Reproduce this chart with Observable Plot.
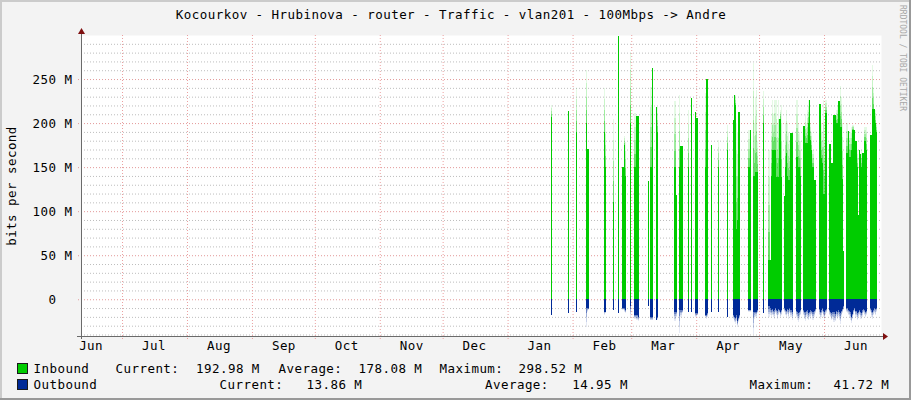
<!DOCTYPE html>
<html><head><meta charset="utf-8">
<script src="https://cdn.jsdelivr.net/npm/d3@7"></script>
<script src="https://cdn.jsdelivr.net/npm/@observablehq/plot@0.6"></script>
<style>
html,body{margin:0;padding:0;background:#fff;}
#wrap{position:relative;width:911px;height:400px;background:#F3F3F3;overflow:hidden;}
#wrap svg{position:absolute;left:0;top:0;}
</style></head><body><div id="wrap"></div>
<script>
// ---------- texts ----------
const title = "Kocourkov - Hrubinova - router - Traffic - vlan201 - 100Mbps -> Andre";
const yLabel = "bits per second";
const credit = "RRDTOOL / TOBI OETIKER";
// ---------- axes ----------
const xStart = "2014-06-11 10:05", xEnd = "2015-06-28 04:34";
const yMin = -41.72, yMax = 300;
const monthStarts = ["2014-07-01","2014-08-01","2014-09-01","2014-10-01","2014-11-01","2014-12-01",
  "2015-01-01","2015-02-01","2015-03-01","2015-04-01","2015-05-01","2015-06-01"];
const monthLabelDates = ["2014-06-16","2014-07-16","2014-08-16","2014-09-16","2014-10-16","2014-11-16",
  "2014-12-16","2015-01-16","2015-02-16","2015-03-16","2015-04-16","2015-05-16","2015-06-16"];
const yMajor = [0, 50, 100, 150, 200, 250];
const yMinor = [-40,-30,-20,-10,10,20,30,40,60,70,80,90,110,120,130,140,160,170,180,190,210,220,230,240,260,270,280,290];
// ---------- sparse spikes (12 h samples, Mbit/s) ----------
const spikeTimes = ["2015-01-21 12","2015-01-30 00","2015-02-02 12","2015-02-07 12","2015-02-08 00","2015-02-08 12","2015-02-16 00","2015-02-16 12","2015-02-20 12","2015-02-22 12",
 "2015-02-24 12","2015-02-25 00","2015-02-25 12","2015-02-26 00","2015-02-28 12","2015-03-02 12","2015-03-03 00","2015-03-03 12","2015-03-04 00","2015-03-09 00",
 "2015-03-10 00","2015-03-10 12","2015-03-11 00","2015-03-13 00","2015-03-13 12","2015-03-21 12","2015-03-22 00","2015-03-22 12","2015-03-24 00","2015-03-24 12",
 "2015-03-25 00","2015-03-28 00","2015-03-29 12","2015-03-31 12","2015-04-01 00","2015-04-01 12","2015-04-05 00","2015-04-05 12","2015-04-06 00","2015-04-08 00",
 "2015-04-11 12","2015-04-15 12","2015-04-18 12","2015-04-19 00","2015-04-19 12","2015-04-20 00","2015-04-20 12","2015-04-21 00","2015-04-21 12","2015-04-25 12",
 "2015-04-26 00","2015-04-26 12","2015-04-28 00","2015-04-28 12","2015-04-29 00","2015-04-29 12","2015-04-30 00","2015-05-03 00"];
const spikeIn = [207,214,190,200,171,171,190,150,110,298.5, 150,150,175,140,200,150,150,208,208,134,
 150,150,263,218,190,150,150,118,150,174, 174,150,228,213,206,206,150,250,250,175,
 150,170,203,232,220,80,90,213,213,150, 150,192,140,140,144,144,145,200];
const spikeInPeak = [220,214,240,260,171,171,240,200,205,298.5, 150,150,185,178,280,211,211,208,208,134,
 241,241,263,218,218,225,225,118,232,174, 174,215,228,213,206,206,234,250,250,175,
 181,198,203,232,232,200,190,213,213,192, 192,192,268,200,230,238,180,236];
const spikeOut = [18,16,14,10,10,10,14,14,12,16, 10,10,10,12,8,18,18,18,20,7.6,
 20,20,20,23,20,14,14,14,12,12, 12,14,15,16,16,16,18,18,16,15,
 14,20,18,20,21,18,25,21,18,12, 12,12,14,14,14,14,12,16];
const spikeOutPeak = [18,16,14,31,14,12,18,16,12,16, 12,12,14,16,20,22,22,24,25,7.6,
 24,24,24,23,23,25,25,20,38,20, 16,14,15,20,20,18,20,22,20,15,
 14,20,22,26,28,25,31,26,22,14, 14,14,39,22,20,20,16,16];
// ---------- dense period, consecutive 12 h samples from denseStart ----------
const denseStart = "2015-05-05 12";
const denseIn = [45,45,140,170,170,170,170,139,139,139,
 205,205,139,0,0,117,150,166,140,135,
 135,189,189,0,0,0,162,162,150,150,
 140,0,0,197,197,177,177,177,200,226,
 181,170,150,135,135,0,0,0,222,222,
 160,155,120,120,211,211,0,0,176,176,
 155,155,209,209,200,200,225,225,196,196,
 136,55,0,0,166,166,191,162,162,170,
 192,192,192,180,150,96,170,165,150,166,
 166,180,180,170,0,0,0,187,187,216,
 216,216,200,190];
const denseInPeak = [170,45,200,226,210,226,226,226,200,226,
 205,215,220,0,0,117,200,215,200,190,
 180,189,189,0,0,0,226,226,200,190,
 180,0,0,197,197,210,200,215,226,226,
 200,190,170,135,135,0,0,0,222,222,
 200,190,226,200,226,226,0,0,176,176,
 155,155,209,209,215,220,225,225,242,230,
 200,55,0,0,200,200,191,190,190,195,
 198,198,192,180,170,96,170,165,170,166,
 166,196,196,196,0,0,0,187,187,266,
 240,216,215,200];
const denseOut = [8,10,12,11,13,12,10,12,13,11,
 12,14,12,0,0,10,12,13,11,12,
 10,12,14,0,0,0,13,15,16,14,
 12,0,0,12,14,15,13,12,16,14,
 12,13,15,13,11,0,0,0,11,14,
 12,10,13,15,12,11,0,0,12,14,
 16,15,14,17,13,15,12,14,16,13,
 11,8,0,0,10,10,12,13,15,20,
 17,12,10,13,16,14,12,14,16,12,
 11,12,14,13,0,0,0,10,12,14,
 12,10,11,10];
const denseOutPeak = [20,18,20,18,20,22,16,18,22,18,
 16,20,18,0,0,14,18,20,17,22,
 16,20,24,0,0,0,20,24,26,22,
 18,0,0,18,22,25,20,22,24,20,
 22,18,24,20,16,0,0,0,18,22,
 20,16,20,24,18,16,0,0,18,20,
 24,22,26,25,20,22,20,24,28,20,
 16,12,0,0,14,16,18,20,24,27,
 22,18,14,20,24,20,18,22,22,20,
 16,18,20,18,0,0,0,14,20,22,
 18,16,18,14];
// ---------- legend ----------
const seriesNames = ["Inbound", "Outbound"];
const seriesColors = ["#00CC00", "#002A97"];
const statLabels = ["Current:", "Average:", "Maximum:"];
const inboundStats = ["192.98 M", "178.08 M", "298.52 M"];
const outboundStats = ["13.86 M", "14.95 M", "41.72 M"];

// ---------- build ----------
function toDate(s) {
  const [d, t = "00"] = s.split(" ");
  const [Y, M, D] = d.split("-").map(Number);
  const [h, m = 0] = t.split(":").map(Number);
  return new Date(Y, M - 1, D, h, m);
}
const rows = [];
spikeTimes.forEach((s, i) => rows.push({t: toDate(s), vi: spikeIn[i], pi: spikeInPeak[i], vo: spikeOut[i], po: spikeOutPeak[i]}));
const d0 = toDate(denseStart);
denseIn.forEach((v, i) => rows.push({t: d3.timeHour.offset(d0, 12 * i), vi: v, pi: denseInPeak[i], vo: denseOut[i], po: denseOutPeak[i]}));
rows.sort((a, b) => a.t - b.t);
rows.forEach(r => r.t2 = d3.timeHour.offset(r.t, 12));
// step series: zero between non-adjacent samples
const series = [{t: toDate(xStart), vi: 0, vo: 0}];
rows.forEach((r, i) => {
  series.push({t: r.t, vi: r.vi, vo: r.vo});
  const next = rows[i + 1];
  if (!next || +next.t !== +r.t2) series.push({t: r.t2, vi: 0, vo: 0});
});
// faded sub-pixel peaks: split [solid, peak] into bands of falling opacity
const bandOpacity = [0.6, 0.38, 0.22, 0.1];
const fades = [];
rows.forEach(r => {
  const n = bandOpacity.length;
  if (r.pi > r.vi) bandOpacity.forEach((o, k) => fades.push({t: r.t, t2: r.t2, a: r.vi + (r.pi - r.vi) * k / n, b: r.vi + (r.pi - r.vi) * (k + 1) / n, o, s: "in"}));
  if (r.po > r.vo) bandOpacity.forEach((o, k) => fades.push({t: r.t, t2: r.t2, a: -(r.vo + (r.po - r.vo) * k / n), b: -(r.vo + (r.po - r.vo) * (k + 1) / n), o, s: "out"}));
});

const FONT = "'DejaVu Sans Mono', monospace";
const plot = Plot.plot({
  width: 911, height: 400,
  marginLeft: 81, marginRight: 30, marginTop: 35, marginBottom: 64,
  style: {background: "transparent", fontFamily: FONT, fontSize: "12.5px", letterSpacing: "0.45px", color: "#000", overflow: "visible"},
  x: {type: "time", domain: [toDate(xStart), toDate(xEnd)]},
  y: {domain: [yMin, yMax]},
  opacity: {type: "identity"},
  marks: [
    Plot.frame({fill: "#fff", stroke: null}),
    Plot.ruleY(yMinor, {stroke: "#BDBDBD", strokeDasharray: "1,2"}),
    Plot.ruleY(yMajor, {stroke: "#E39A9A", strokeDasharray: "1,2", insetLeft: -3}),
    Plot.ruleX(monthStarts.map(toDate), {stroke: "#EBA0A0", strokeDasharray: "1,2", insetBottom: -3}),
    Plot.rect(fades.filter(f => f.s === "in"), {x1: "t", x2: "t2", y1: "a", y2: "b", fill: seriesColors[0], fillOpacity: "o", shapeRendering: "crispEdges"}),
    Plot.rect(fades.filter(f => f.s === "out"), {x1: "t", x2: "t2", y1: "a", y2: "b", fill: seriesColors[1], fillOpacity: "o", shapeRendering: "crispEdges"}),
    Plot.areaY(series, {x: "t", y1: () => 0, y2: "vi", curve: "step-after", fill: seriesColors[0], shapeRendering: "crispEdges"}),
    Plot.areaY(series, {x: "t", y1: () => 0, y2: d => -d.vo, curve: "step-after", fill: seriesColors[1], shapeRendering: "crispEdges"}),
    Plot.axisY(yMajor, {tickSize: 0, tickPadding: 9, tickFormat: d => d === 0 ? "0\u00a0\u00a0" : d + " M"}),
    Plot.axisX(monthLabelDates.map(toDate), {tickSize: 0, tickPadding: 5, tickFormat: d3.timeFormat("%b")})
  ]
});

// axis lines + arrows from the scales
const svg = d3.select(plot);
const xs = plot.scale("x"), ys = plot.scale("y");
const x0 = xs.apply(toDate(xStart)), x1 = xs.apply(toDate(xEnd));
const yb = ys.apply(yMin), yt = ys.apply(yMax);
const ax = svg.append("g");
ax.append("line").attr("x1", x0 - 4).attr("x2", x1 + 2).attr("y1", yb + 0.5).attr("y2", yb + 0.5).attr("stroke", "#6A6A6A");
ax.append("line").attr("x1", x0 + 0.5).attr("x2", x0 + 0.5).attr("y1", yb + 3).attr("y2", yt - 1).attr("stroke", "#6A6A6A");
ax.append("polygon").attr("points", `${x1+2},${yb-3} ${x1+7},${yb+0.5} ${x1+2},${yb+4}`).attr("fill", "#7F1010");
ax.append("polygon").attr("points", `${x0-3},${yt-1} ${x0+0.5},${yt-7} ${x0+4},${yt-1}`).attr("fill", "#7F1010");

const wrap = document.getElementById("wrap");
wrap.appendChild(plot);

// text overlay: title, y label, legend, credit
const ov = d3.create("svg").attr("width", 911).attr("height", 400)
  .style("font-family", FONT).style("font-size", "12.5px").style("letter-spacing", "0.45px");
ov.append("rect").attr("x", 0).attr("y", 0).attr("width", 911).attr("height", 2).attr("fill", "#CBCBCB");
ov.append("rect").attr("x", 0).attr("y", 0).attr("width", 2).attr("height", 400).attr("fill", "#CBCBCB");
ov.append("rect").attr("x", 0).attr("y", 398).attr("width", 911).attr("height", 2).attr("fill", "#999");
ov.append("rect").attr("x", 909).attr("y", 0).attr("width", 2).attr("height", 400).attr("fill", "#999");
ov.append("text").attr("x", 451).attr("y", 18.5).attr("text-anchor", "middle").style("letter-spacing", "0.45px").text(title);
ov.append("text").attr("transform", "translate(15.5,186) rotate(-90)").attr("text-anchor", "middle").text(yLabel);
ov.append("text").attr("transform", "translate(899.5,5) rotate(90)").attr("fill", "#A8A8A8")
  .style("font-size", "8px").style("letter-spacing", "0px").text(credit);
const rowY = [373, 389];
const statX = [[116, 196.5, 279, 359, 440, 519], [220, 307, 485.5, 572.7, 750, 834]];
[inboundStats, outboundStats].forEach((st, r) => {
  ov.append("rect").attr("x", 17.5).attr("y", rowY[r] - 9.5).attr("width", 10).attr("height", 10)
    .attr("fill", seriesColors[r]).attr("stroke", "#1A1A1A").attr("stroke-width", 1);
  ov.append("text").attr("x", 33.5).attr("y", rowY[r]).text(seriesNames[r]);
  st.forEach((v, k) => {
    ov.append("text").attr("x", statX[r][2 * k] - 0.5).attr("y", rowY[r]).text(statLabels[k]);
    ov.append("text").attr("x", statX[r][2 * k + 1] - 0.5).attr("y", rowY[r]).text(v);
  });
});
wrap.appendChild(ov.node());
</script></body></html>
